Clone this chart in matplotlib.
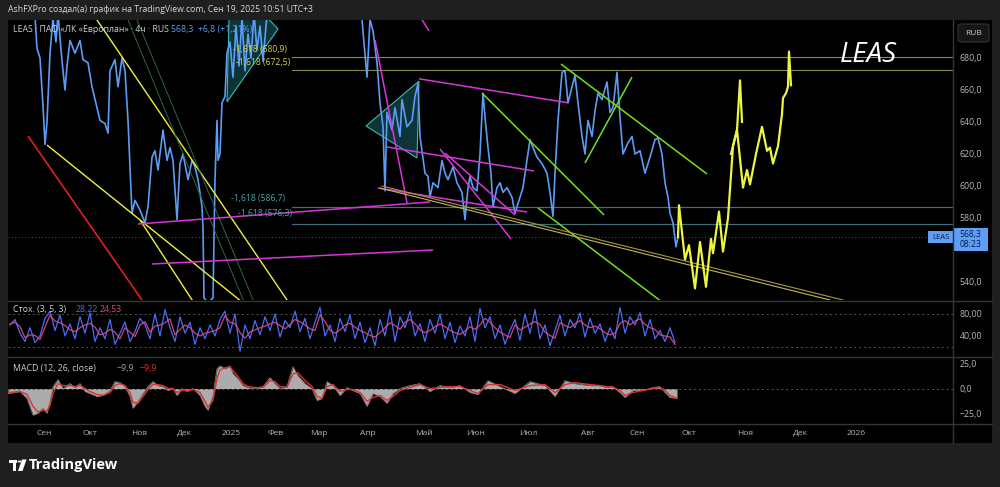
import numpy as np
import matplotlib.pyplot as plt
from matplotlib.patches import Polygon, Rectangle, FancyBboxPatch, Circle
from matplotlib.lines import Line2D

plt.rcParams['font.family'] = ['Open Sans', 'DejaVu Sans']

W, H = 1000, 487

# ---- data (x is the bar position on the time scale) ----
month_pos = [44, 90, 139, 184, 231, 276, 319, 368, 424, 476, 528, 588, 637, 689, 745, 800, 856]
month_lbl = ["Сен", "Окт", "Ноя", "Дек", "2025", "Фев", "Мар", "Апр", "Май", "Июн", "Июл",
             "Авг", "Сен", "Окт", "Ноя", "Дек", "2026"]

price_x = [10, 20, 30, 35, 37, 40, 43, 45, 47, 50, 53, 56, 58, 61, 63, 65, 67, 70, 75, 80,
           83, 88, 92, 97, 100, 105, 108, 110, 115, 118, 122, 125, 128, 130, 132, 135, 140, 145, 148, 152,
           155, 158, 163, 167, 170, 173, 177, 180, 183, 188, 192, 195, 198, 202, 203, 204, 208, 213, 215, 217,
           218, 220, 222, 225, 227, 230, 233, 236, 239, 242, 245, 248, 251, 254, 257, 260, 263, 266, 268, 280,
           300, 320, 340, 355, 362, 367, 370, 373, 377, 380, 383, 385, 387, 392, 395, 400, 402, 407, 412, 415,
           418, 420, 425, 428, 430, 433, 438, 442, 445, 448, 453, 457, 462, 465, 468, 470, 473, 477, 480, 483,
           485, 488, 491, 493, 497, 500, 503, 507, 512, 515, 518, 523, 527, 530, 533, 537, 542, 547, 550, 553,
           555, 558, 562, 565, 568, 572, 575, 578, 582, 585, 588, 592, 595, 598, 602, 607, 610, 613, 617, 620,
           623, 628, 632, 635, 640, 645, 650, 655, 658, 662, 665, 668, 670, 673, 676, 678]
price_y = [715, 720, 712, 706, 686, 680, 650, 626, 640, 683, 705, 690, 708, 685, 672, 660, 675, 691, 683, 691,
           679, 677, 662, 649, 641, 639, 633, 672, 679, 662, 680, 672, 641, 612, 583, 591, 585, 577, 587, 618,
           622, 610, 635, 616, 624, 616, 579, 614, 620, 604, 616, 612, 604, 587, 574, 530, 527, 530, 604, 641,
           616, 620, 652, 656, 683, 690, 668, 700, 675, 705, 672, 695, 680, 708, 685, 700, 678, 700, 712, 720,
           725, 722, 718, 712, 704, 668, 704, 697, 677, 652, 637, 597, 646, 635, 649, 631, 654, 637, 641, 656,
           664, 631, 608, 606, 593, 602, 599, 616, 608, 604, 612, 602, 596, 579, 599, 606, 599, 597, 620, 658,
           643, 624, 608, 587, 599, 602, 596, 599, 593, 583, 589, 599, 616, 629, 624, 618, 614, 608, 596, 581,
           608, 641, 671, 672, 652, 662, 669, 652, 631, 620, 641, 631, 647, 658, 654, 665, 646, 649, 671, 643,
           620, 627, 631, 620, 622, 608, 618, 629, 630, 620, 602, 593, 583, 577, 562, 568.3]

# hand-drawn projection (two brush strokes)
proj1_x = [678, 679, 685, 689, 695, 700, 706, 711, 713, 719, 723, 728, 733, 737, 740, 742]
proj1_y = [568, 588, 554, 563, 536, 565, 537, 567, 558, 584, 559, 580, 625, 635, 666, 640]
proj2_x = [731, 737, 743, 747, 750, 756, 762, 767, 770, 773, 778, 782, 783, 786, 788, 789, 791]
proj2_y = [620, 635, 599, 610, 601, 620, 637, 622, 624, 614, 625, 645, 655, 658, 662, 684, 663]

stoch_k = [60, 70, 45, 30, 55, 28, 40, 72, 85, 50,
           78, 40, 62, 35, 75, 45, 82, 30, 55, 35,
           70, 25, 45, 65, 30, 48, 72, 60, 35, 80,
           40, 88, 55, 30, 75, 45, 65, 25, 55, 35,
           60, 40, 70, 85, 45, 80, 12, 60, 35, 68,
           42, 75, 50, 80, 38, 68, 55, 85, 48, 72,
           35, 65, 92, 40, 60, 30, 72, 48, 78, 35,
           65, 28, 55, 22, 70, 40, 88, 30, 75, 55,
           85, 40, 62, 30, 70, 45, 80, 35, 65, 28,
           58, 40, 75, 30, 90, 55, 75, 35, 60, 25,
           50, 70, 32, 80, 45, 88, 35, 60, 22, 50,
           78, 40, 70, 55, 82, 38, 72, 45, 62, 30,
           55, 35, 92, 45, 75, 60, 82, 40, 70, 35,
           50, 30, 55, 28.22]
stoch_d = [62, 65, 57, 37, 42, 41, 34, 56, 78, 67,
           64, 59, 51, 48, 55, 60, 63, 56, 42, 45,
           52, 47, 35, 55, 47, 39, 60, 66, 47, 58,
           60, 64, 71, 42, 52, 60, 55, 45, 40, 45,
           47, 50, 55, 77, 65, 62, 46, 36, 47, 51,
           55, 58, 62, 65, 59, 53, 61, 70, 66, 60,
           53, 50, 78, 66, 50, 45, 51, 60, 63, 56,
           50, 46, 41, 38, 46, 55, 64, 59, 52, 65,
           70, 62, 51, 46, 50, 57, 62, 57, 50, 46,
           43, 49, 57, 52, 60, 72, 65, 55, 47, 42,
           37, 60, 51, 56, 62, 66, 61, 47, 41, 36,
           64, 59, 55, 62, 68, 60, 55, 58, 53, 46,
           42, 45, 63, 68, 60, 67, 71, 61, 55, 52,
           42, 40, 38, 24.53]
stoch_x = np.arange(10, 10 + 5 * len(stoch_k), 5)

macd_x = [8, 20, 27, 33, 38, 43, 47, 50, 53, 58, 63, 70, 75, 80, 85, 90, 97, 103, 110, 115,
          120, 125, 130, 133, 138, 143, 148, 153, 158, 163, 168, 173, 177, 182, 187, 193, 200, 205, 208, 213,
          217, 220, 225, 230, 233, 238, 243, 248, 255, 263, 270, 275, 280, 287, 293, 298, 305, 312, 317, 322,
          327, 333, 340, 347, 353, 360, 367, 373, 380, 387, 393, 400, 410, 420, 430, 440, 450, 460, 470, 478,
          488, 500, 515, 530, 545, 555, 565, 575, 590, 600, 607, 612, 620, 625, 633, 643, 653, 660, 665, 670, 677]
macd_v = [-5, -3, -10, -27, -25, -20, -25, -13, 2, 9, 0, 5, 1, 5, -3, -5, -8, -7, -2, 7,
          6, 2, -8, -20, -13, -5, 2, 7, 3, 2, -2, 0, -7, 0, -3, 0, -7, -18, -22, -7,
          20, 23, 20, 23, 15, 10, 3, 1, 0, 2, 11, 5, 0, 2, 22, 13, 5, 0, -12, -10,
          7, 3, -7, 1, -2, -5, -18, -5, -8, -15, -5, 0, 3, 5, -3, 3, 1, 3, -4, -6,
          8, 2, -5, 7, 3, -8, 8, 5, 3, 3, 1, 2, -4, -9, -2, -2, 1, 2, -4, -9, -9.9]
macd_sig = [-4, -3, -6, -18, -24, -22, -23, -17, -5, 5, 3, 3, 2, 3, 0, -3, -6, -7, -4, 3,
            5, 3, -4, -14, -15, -8, -1, 4, 4, 3, 0, 0, -4, -2, -2, -1, -4, -13, -19, -12,
            10, 19, 21, 22, 18, 12, 5, 2, 1, 1, 8, 7, 2, 1, 15, 16, 8, 2, -8, -10,
            2, 4, -3, -1, -1, -4, -13, -9, -7, -12, -8, -2, 1, 4, 0, 1, 2, 2, -2, -5,
            4, 4, -2, 3, 4, -4, 4, 6, 4, 3, 2, 2, -2, -7, -4, -2, 0, 1, -2, -7, -9.9]

# trend lines drawn on the chart: ((x0, p0), (x1, p1))
red_lines = [((28, 631.25), (145, 526))]
yellow_lines = [((47, 625.6), (245, 526)), ((90, 710.2), (290, 526)), ((140, 578.75), (195, 526))]
dkgreen_lines = [((128, 703.75), (245, 526)), ((137, 703.75), (255, 526))]
magenta_lines = [((138, 576.25), (430, 590)), ((152, 551.25), (433, 560)), ((419, 707), (429, 696.9)),
                 ((375, 691.25), (407, 589.4)), ((419, 667), (568, 652)), ((387, 624.4), (534, 609.4)),
                 ((378, 598.75), (527, 583.75)), ((440, 623.1), (511, 566.9)), ((445, 620.6), (515, 581.9))]
lime_lines = [((482, 658.1), (604, 581.9)), ((538, 586.25), (662, 527.5)),
              ((561, 676.25), (707, 607.5)), ((585, 614.4), (632, 668.1))]
olive_lines = [((382, 600), (843, 528.75)), ((380, 598.75), (830, 528.75))]
triangles = [[(227, 652.5), (230, 730), (278, 698.1)], [(366, 637.5), (419, 665.6), (417, 617.5)]]
fib_olive = [680.9, 672.5]
fib_teal = [586.7, 576.3]
last_price = 568.3

# ---- figure ----
fig = plt.figure(figsize=(W / 100, H / 100), dpi=100, facecolor='#1f1f1f')
fig.add_artist(Rectangle((8 / W, 1 - 443 / H), 984 / W, 423 / H, transform=fig.transFigure,
                         facecolor='black', edgecolor='none', zorder=0))


def px_axes(x0, y0, x1, y1):
    a = fig.add_axes([x0 / W, 1 - y1 / H, (x1 - x0) / W, (y1 - y0) / H])
    a.set_facecolor('black')
    for s in a.spines.values():
        s.set_visible(False)
    a.set_xlim(8, 953)
    a.yaxis.tick_right()
    a.tick_params(axis='y', length=0, pad=5, labelsize=6.3, labelcolor='#b8b8b8')
    a.tick_params(axis='x', length=0, labelbottom=False)
    return a


ax = px_axes(8, 20, 953, 300)
ax_st = px_axes(8, 301, 953, 356)
ax_m = px_axes(8, 357, 953, 423)

# separators
for yy in [300.5, 356.5, 423.5]:
    fig.add_artist(Line2D([8 / W, 992 / W], [1 - yy / H] * 2, transform=fig.transFigure, color='#353535', lw=1))
fig.add_artist(Line2D([953 / W] * 2, [1 - 20 / H, 1 - 443 / H], transform=fig.transFigure, color='#353535', lw=1))

# ---- main panel ----
ax.set_ylim(528.75, 703.75)
ax.set_yticks([540, 580, 600, 620, 640, 660, 680])
ax.set_yticklabels([f"{v},0" for v in [540, 580, 600, 620, 640, 660, 680]])

for p in fib_olive:
    ax.plot([292, 953], [p, p], color='#8a8a4a', lw=0.8, zorder=2)
for p in fib_teal:
    ax.plot([292, 953], [p, p], color='#3e6e78', lw=0.9, zorder=2)
ax.axhline(last_price, color='#3b4a63', lw=0.8, ls=(0, (1, 2)), zorder=2)

for tri in triangles:
    ax.add_patch(Polygon(tri, closed=True, facecolor=(0.15, 0.6, 0.62, 0.35),
                         edgecolor='#3fb7b0', lw=0.8, zorder=3))

ax.plot(price_x, price_y, color='#5b9cf6', lw=1.2, zorder=4)


def draw(lines, color, lw):
    for (x0, p0), (x1, p1) in lines:
        ax.plot([x0, x1], [p0, p1], color=color, lw=lw, zorder=5, solid_capstyle='butt')


draw(red_lines, '#e02020', 1.2)
draw(yellow_lines, '#f0f03a', 1.0)
draw(dkgreen_lines, '#2b6b3a', 0.7)
draw(magenta_lines, '#d836d8', 1.1)
draw(lime_lines, '#70e020', 1.1)
ax.plot(*zip(*olive_lines[0]), color='#a39b3c', lw=0.8, zorder=5)
ax.plot(*zip(*olive_lines[1]), color='#c9b458', lw=0.8, zorder=5)

ax.plot(proj1_x, proj1_y, color='#ecf542', lw=1.6, zorder=6, solid_joinstyle='round')
ax.plot(proj2_x, proj2_y, color='#ecf542', lw=1.6, zorder=6, solid_joinstyle='round')

ax.text(233, 685.6, "-1,618 (680,9)", color='#cfd84a', fontsize=6.2, va='center', zorder=7)
ax.text(236, 677.5, "-1,618 (672,5)", color='#cfd84a', fontsize=6.2, va='center', zorder=7)
ax.text(231, 591.9, "-1,618 (586,7)", color='#4fa3a5', fontsize=6.2, va='center', zorder=7)
ax.text(238, 583.0, "-1,618 (576,3)", color='#4fa3a5', fontsize=6.2, va='center', zorder=7)

ax.text(868, 682, "LEAS", color='white', fontsize=20, style='italic', ha='center', va='center', zorder=7)

ax.text(13, 698, "LEAS · ПАО «ЛК «Европлан» · 4ч · RUS", color='#d0d0d0', fontsize=6.3,
        va='center', zorder=7)
ax.text(171, 698, "568,3  +6,8 (+1,21%)", color='#5b9cf6', fontsize=6.3, va='center', zorder=7)

# ---- stochastic ----
ax_st.set_ylim(3.6, 103.6)
ax_st.set_yticks([40, 80])
ax_st.set_yticklabels(["40,00", "80,00"])
for lvl in [80, 20]:
    ax_st.axhline(lvl, color='#555555', lw=0.7, ls=(0, (2, 3)))
ax_st.plot(stoch_x, stoch_k, color='#4a6cf7', lw=0.9)
ax_st.plot(stoch_x, stoch_d, color='#e64a8c', lw=0.9, alpha=0.9)
ax_st.text(13, 89, "Стох. (3, 5, 3)", color='#d0d0d0', fontsize=6.3, va='center')
ax_st.text(76, 89, "28,22", color='#4a6cf7', fontsize=6.3, va='center')
ax_st.text(100, 89, "24,53", color='#e0487a', fontsize=6.3, va='center')

# ---- MACD ----
ax_m.set_ylim(-35, 32)
ax_m.set_yticks([-25, 0, 25])
ax_m.set_yticklabels(["\u221225,0", "0,0", "25,0"])
ax_m.axhline(0, color='#555555', lw=0.7, ls=(0, (2, 3)))
ax_m.fill_between(macd_x, macd_v, 0, color='#acacac', lw=0)
ax_m.plot(macd_x, macd_v, color='#7a7a7a', lw=0.6)
ax_m.plot(macd_x, macd_sig, color='#e03030', lw=1.0)
ax_m.text(13, 20, "MACD (12, 26, close)", color='#d0d0d0', fontsize=6.3, va='center')
ax_m.text(117, 20, "\u22129,9", color='#a0a0a0', fontsize=6.3, va='center')
ax_m.text(140, 20, "\u22129,9", color='#e03030', fontsize=6.3, va='center')

ax_m.set_xticks(month_pos)
ax_m.set_xticklabels(month_lbl)
ax_m.tick_params(axis='x', labelbottom=True, length=0, pad=5, labelsize=6, labelcolor='#b8b8b8')

# ---- price axis badges ----
fig.add_artist(FancyBboxPatch((958 / W, 1 - 42 / H), 31 / W, 18 / H, boxstyle='round,pad=0,rounding_size=0.004',
                              transform=fig.transFigure, facecolor='#161616', edgecolor='#333333', lw=0.8))
fig.text(973.5 / W, 1 - 33 / H, "RUB", color='#c8c8c8', fontsize=6, ha='center', va='center')

fig.add_artist(Rectangle((928 / W, 1 - 243 / H), 25 / W, 12 / H, transform=fig.transFigure,
                         facecolor='#5e9ef5', edgecolor='none'))
fig.text(940.5 / W, 1 - 237 / H, "LEAS", color='#0b1f4d', fontsize=5.6, ha='center', va='center')
fig.add_artist(Rectangle((953 / W, 1 - 251 / H), 35 / W, 23 / H, transform=fig.transFigure,
                         facecolor='#5e9ef5', edgecolor='none'))
fig.text(970.5 / W, 1 - 234 / H, "568,3", color='#0b1f4d', fontsize=6.2, ha='center', va='center')
fig.text(970.5 / W, 1 - 245 / H, "08:23", color='#0b1f4d', fontsize=6.2, ha='center', va='center')

# ---- header & logo ----
fig.text(8 / W, 1 - 10 / H, "AshFXPro создал(а) график на TradingView.com, Сен 19, 2025 10:51 UTC+3",
         color='#d8d8d8', fontsize=6.2, va='center')

fig.add_artist(Rectangle((9 / W, 1 - 463 / H), 7.5 / W, 3.5 / H, transform=fig.transFigure,
                         facecolor='white', edgecolor='none'))
fig.add_artist(Rectangle((12.5 / W, 1 - 471 / H), 3.5 / W, 11 / H, transform=fig.transFigure,
                         facecolor='white', edgecolor='none'))
fig.add_artist(Circle((19.5 / W, 1 - 461.5 / H), 1.9 / W, transform=fig.transFigure,
                      facecolor='white', edgecolor='none'))
fig.add_artist(Polygon([(22 / W, 1 - 459.5 / H), (26.5 / W, 1 - 459.5 / H), (22.5 / W, 1 - 471 / H),
                        (18 / W, 1 - 471 / H)], closed=True, transform=fig.transFigure,
                       facecolor='white', edgecolor='none'))
fig.text(29 / W, 1 - 465.5 / H, "TradingView", color='white', fontsize=10.5, fontweight='bold', va='center')

fig.savefig("out.png", dpi=100, facecolor=fig.get_facecolor())
